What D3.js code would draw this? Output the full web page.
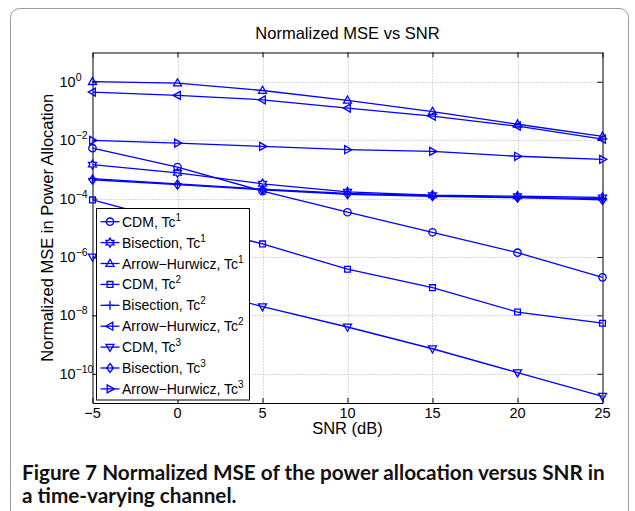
<!DOCTYPE html>
<html><head><meta charset="utf-8">
<script src="https://cdn.jsdelivr.net/npm/d3@7"></script>
<style>body{margin:0;background:#fff}</style>
</head><body><svg id="c" width="635" height="511"></svg>
<script>
// ---- data ----
const snr = [-5, 0, 5, 10, 15, 20, 25];
const cdmTc1    = [5.3e-3, 1.2e-3, 1.8e-4, 3.4e-5, 7e-6, 1.4e-6, 2e-7];
const bisTc1    = [1.45e-3, 7.6e-4, 3.2e-4, 1.7e-4, 1.3e-4, 1.2e-4, 1.1e-4];
const arrowTc1  = [1.0, 0.9, 0.5, 0.23, 0.095, 0.035, 0.0135];
const cdmTc2    = [9e-5, 1.5e-5, 2.8e-6, 3.8e-7, 8.9e-8, 1.3e-8, 5.4e-9];
const bisTc2    = [4.8e-4, 3.2e-4, 2.1e-4, 1.5e-4, 1.25e-4, 1.1e-4, 1.0e-4];
const arrowTc2  = [0.44, 0.34, 0.24, 0.125, 0.066, 0.030, 0.0108];
const cdmTc3    = [1e-6, 1.1e-7, 2e-8, 4e-9, 7.2e-10, 1.1e-10, 1.7e-11];
const bisTc3    = [4.4e-4, 3e-4, 2e-4, 1.4e-4, 1.2e-4, 1.07e-4, 9e-5];
const arrowTc3  = [9.8e-3, 7.9e-3, 6.1e-3, 4.7e-3, 4.1e-3, 2.8e-3, 2.2e-3];
const seriesNames = ["CDM, Tc", "Bisection, Tc", "Arrow\u2212Hurwicz, Tc", "CDM, Tc", "Bisection, Tc", "Arrow\u2212Hurwicz, Tc", "CDM, Tc", "Bisection, Tc", "Arrow\u2212Hurwicz, Tc"];
const seriesSups = ["1","1","1","2","2","2","3","3","3"];
const seriesMarkers = ["circle","hexagram","up","square","plus","left","down","diamond","right"];
const seriesValues = [cdmTc1, bisTc1, arrowTc1, cdmTc2, bisTc2, arrowTc2, cdmTc3, bisTc3, arrowTc3];
const xTicks = [-5, 0, 5, 10, 15, 20, 25];
const yTickExps = [0, -2, -4, -6, -8, -10];
const titleText = "Normalized MSE vs SNR";
const xLabel = "SNR (dB)";
const yLabel = "Normalized MSE in Power Allocation";
const captionBold = "Figure 7";
const captionLine1 = " Normalized MSE of the power allocation versus SNR in";
const captionLine2 = "a time-varying channel.";

// ---- layout ----
const svg = d3.select("#c");
const font = "Liberation Sans, Arial, Helvetica, sans-serif";
const blue = "#0000ff";
const L = 92.5, R = 602.5, T = 52.5, B = 403;
const x = d3.scaleLinear().domain([-5, 25]).range([L, R]);
const y = d3.scaleLog().domain([1e-11, 1e1]).range([B, T]);

// frame
svg.append("rect").attr("x", 10.5).attr("y", 8.5).attr("width", 618).attr("height", 540)
  .attr("rx", 9).attr("fill", "none").attr("stroke", "#9a9a9a").attr("stroke-width", 1);

// grid
const grid = svg.append("g").attr("stroke", "#b0b0b0").attr("stroke-width", 1).attr("stroke-dasharray", "1,2");
xTicks.slice(1, -1).forEach(t => grid.append("line").attr("x1", Math.round(x(t))+0.5).attr("x2", Math.round(x(t))+0.5).attr("y1", T).attr("y2", B));
yTickExps.forEach(e => grid.append("line").attr("x1", L).attr("x2", R).attr("y1", Math.round(y(Math.pow(10, e)))+0.5).attr("y2", Math.round(y(Math.pow(10, e)))+0.5));

// axes via d3
const yVals = yTickExps.map(e => Math.pow(10, e));
svg.append("g").attr("transform", `translate(0,${B})`)
  .call(d3.axisBottom(x).tickValues(xTicks).tickSize(-5).tickSizeOuter(0).tickFormat(""))
  .call(g => g.select(".domain").attr("stroke", "#000"));
svg.append("g").attr("transform", `translate(0,${T})`)
  .call(d3.axisTop(x).tickValues(xTicks).tickSize(-5).tickSizeOuter(0).tickFormat(""))
  .call(g => g.select(".domain").attr("stroke", "#000"));
svg.append("g").attr("transform", `translate(${L},0)`)
  .call(d3.axisLeft(y).tickValues(yVals).tickSize(-5).tickSizeOuter(0).tickFormat(""))
  .call(g => g.select(".domain").attr("stroke", "#000"));
svg.append("g").attr("transform", `translate(${R},0)`)
  .call(d3.axisRight(y).tickValues(yVals).tickSize(-5).tickSizeOuter(0).tickFormat(""))
  .call(g => g.select(".domain").attr("stroke", "#000"));

// x tick labels
xTicks.forEach(t => {
  svg.append("text").attr("x", x(t)).attr("y", 417.5).attr("text-anchor", "middle")
    .attr("font-family", font).attr("font-size", 14.5).attr("fill", "#000")
    .text(t < 0 ? "\u2212" + Math.abs(t) : t);
});

// y tick labels with superscripts
yTickExps.forEach(e => {
  const t = svg.append("text").attr("x", 59.5).attr("y", y(Math.pow(10, e)) + 5)
    .attr("font-family", font).attr("font-size", 14.5).attr("fill", "#000");
  t.append("tspan").text("10");
  t.append("tspan").attr("dy", -6).attr("font-size", 10.5).text(e < 0 ? "\u2212" + Math.abs(e) : e);
});

// marker shapes
function markerPath(type) {
  switch (type) {
    case "circle": return d3.symbol(d3.symbolCircle, Math.PI * 3.7 * 3.7)();
    case "square": return "M-2.9,-2.9H2.9V2.9H-2.9Z";
    case "up": return "M0,-4.3L4,2.8L-4,2.8Z";
    case "down": return "M0,4.3L4,-2.8L-4,-2.8Z";
    case "left": return "M-4.3,0L2.8,-4L2.8,4Z";
    case "right": return "M4.3,0L-2.8,-4L-2.8,4Z";
    case "diamond": return "M0,-4.5L3.4,0L0,4.5L-3.4,0Z";
    case "plus": return "M-4.5,0H4.5M0,-4.5V4.5";
    case "hexagram": {
      const pts = [];
      for (let i = 0; i < 12; i++) {
        const r = i % 2 === 0 ? 4.6 : 2.65;
        const a = -Math.PI / 2 + i * Math.PI / 6;
        pts.push([r * Math.cos(a), r * Math.sin(a)]);
      }
      return "M" + pts.map(p => p[0].toFixed(2) + "," + p[1].toFixed(2)).join("L") + "Z";
    }
  }
}

// series
const line = d3.line().x((d, i) => x(snr[i])).y(d => y(d));
const plot = svg.append("g");
seriesValues.forEach((vals, k) => {
  plot.append("path").attr("d", line(vals)).attr("fill", "none").attr("stroke", blue).attr("stroke-width", 1.3);
  plot.selectAll(null).data(vals).enter().append("path")
    .attr("transform", (d, i) => `translate(${x(snr[i])},${y(d)})`)
    .attr("d", markerPath(seriesMarkers[k]))
    .attr("fill", "none").attr("stroke", blue).attr("stroke-width", 1.3);
});

// legend
const lg = svg.append("g");
lg.append("rect").attr("x", 96.5).attr("y", 208.5).attr("width", 153).attr("height", 191.5)
  .attr("fill", "#fff").attr("stroke", "#000").attr("stroke-width", 1);
seriesNames.forEach((nm, k) => {
  const yy = 221.7 + k * 20.9;
  lg.append("line").attr("x1", 100.5).attr("x2", 119.5).attr("y1", yy).attr("y2", yy).attr("stroke", blue).attr("stroke-width", 1.3);
  lg.append("path").attr("transform", `translate(110,${yy})`).attr("d", markerPath(seriesMarkers[k]))
    .attr("fill", "none").attr("stroke", blue).attr("stroke-width", 1.3);
  const t = lg.append("text").attr("x", 122).attr("y", yy + 5).attr("font-family", font).attr("font-size", 14).attr("fill", "#000");
  t.append("tspan").text(nm);
  t.append("tspan").attr("dy", -6).attr("font-size", 10).text(seriesSups[k]);
});

// title & labels
svg.append("text").attr("x", (L + R) / 2).attr("y", 38.5).attr("text-anchor", "middle")
  .attr("font-family", font).attr("font-size", 16.5).attr("fill", "#000").text(titleText);
svg.append("text").attr("x", (L + R) / 2).attr("y", 434).attr("text-anchor", "middle")
  .attr("font-family", font).attr("font-size", 16.5).attr("fill", "#000").text(xLabel);
svg.append("text").attr("transform", `translate(52.5,${(T + B) / 2}) rotate(-90)`).attr("text-anchor", "middle")
  .attr("font-family", font).attr("font-size", 16.5).attr("fill", "#000").text(yLabel);

// caption
const capFont = "Lato, 'Open Sans', sans-serif";
const c1 = svg.append("text").attr("x", 22).attr("y", 479.5).attr("font-family", capFont).attr("font-size", 17).attr("font-weight", 700).attr("fill", "#111");
c1.append("tspan").text(captionBold);
c1.append("tspan").text(captionLine1);
const w = c1.node().getComputedTextLength();
const fs = 17 * 583 / w;
c1.attr("font-size", fs);
svg.append("text").attr("x", 22).attr("y", 503).attr("font-family", capFont).attr("font-size", fs).attr("font-weight", 700).attr("fill", "#111").text(captionLine2);
</script>
</body></html>
